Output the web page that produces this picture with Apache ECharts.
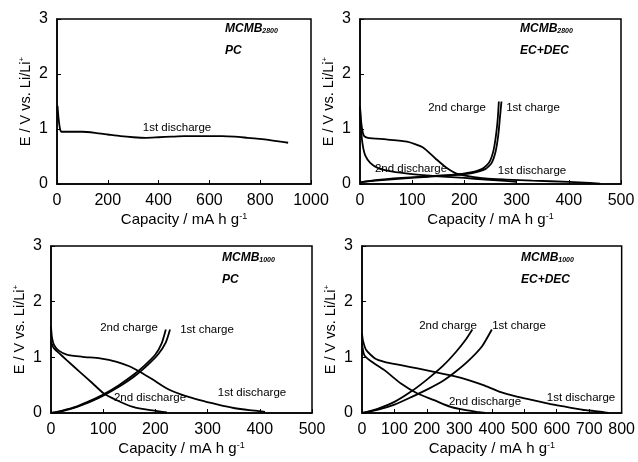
<!DOCTYPE html>
<html>
<head>
<meta charset="utf-8">
<script src="https://cdn.jsdelivr.net/npm/echarts@6/dist/echarts.min.js"></script>
<style>
html, body { margin: 0; padding: 0; background: #fff; }
#chart { width: 638px; height: 462px; }
</style>
</head>
<body>
<div id="chart"></div>
<script>
// capacity (mA h g-1), potential (V vs Li/Li+)

// MCMB2800 / PC
const pc2800Dis1 = [[2, 1.42], [6, 1.2], [12, 1.0], [18, 0.95], [50, 0.95], [100, 0.95], [150, 0.93], [200, 0.9], [250, 0.87], [300, 0.85], [350, 0.84], [400, 0.85], [450, 0.86], [500, 0.87], [550, 0.87], [600, 0.87], [650, 0.87], [700, 0.86], [750, 0.84], [800, 0.82], [850, 0.79], [880, 0.77], [910, 0.75]];

// MCMB2800 / EC+DEC
const ec2800Dis1 = [[0, 1.42], [2, 1.15], [5, 0.95], [8, 0.87], [15, 0.84], [50, 0.81], [90, 0.77], [120, 0.67], [145, 0.46], [165, 0.3], [185, 0.19], [210, 0.14], [240, 0.1], [280, 0.08], [330, 0.06], [400, 0.04], [440, 0.02], [460, 0.005]];
const ec2800Dis2 = [[0, 1.38], [2, 1.0], [5, 0.72], [10, 0.52], [20, 0.38], [35, 0.29], [60, 0.23], [100, 0.18], [150, 0.14], [200, 0.11], [240, 0.08], [270, 0.06], [300, 0.04]];
const ec2800Chg1 = [[0, 0.03], [30, 0.06], [80, 0.1], [130, 0.13], [180, 0.16], [215, 0.2], [240, 0.27], [252, 0.38], [260, 0.6], [265, 0.9], [268, 1.2], [271, 1.5]];
const ec2800Chg2 = [[0, 0.03], [30, 0.07], [80, 0.11], [130, 0.14], [180, 0.17], [212, 0.21], [235, 0.28], [248, 0.4], [256, 0.62], [261, 0.92], [264, 1.2], [266, 1.5]];

// MCMB1000 / PC
const pc1000Dis1 = [[0, 1.55], [2, 1.35], [6, 1.22], [15, 1.12], [30, 1.05], [60, 1.01], [94, 0.98], [126, 0.92], [150, 0.84], [170, 0.74], [195, 0.6], [222, 0.44], [250, 0.33], [285, 0.23], [320, 0.15], [350, 0.09], [380, 0.05], [410, 0.02]];
const pc1000Dis2 = [[0, 1.28], [5, 1.17], [15, 1.08], [30, 0.95], [55, 0.74], [80, 0.53], [100, 0.36], [126, 0.23], [157, 0.11], [190, 0.05], [222, 0.01]];
const pc1000Chg1 = [[0, 0], [20, 0.03], [50, 0.11], [80, 0.22], [100, 0.31], [130, 0.47], [160, 0.66], [185, 0.86], [205, 1.05], [220, 1.27], [228, 1.5]];
const pc1000Chg2 = [[0, 0], [20, 0.04], [50, 0.12], [80, 0.24], [100, 0.33], [130, 0.5], [160, 0.7], [180, 0.86], [200, 1.05], [212, 1.25], [220, 1.5]];

// MCMB1000 / EC+DEC
const ec1000Dis1 = [[0, 1.43], [3, 1.3], [13, 1.13], [40, 0.98], [69, 0.92], [120, 0.86], [171, 0.8], [222, 0.74], [293, 0.65], [340, 0.57], [374, 0.5], [425, 0.38], [480, 0.29], [527, 0.23], [580, 0.16], [629, 0.11], [690, 0.05], [741, 0.02], [760, 0.0]];
const ec1000Dis2 = [[0, 1.25], [7, 1.04], [30, 0.92], [69, 0.77], [120, 0.53], [171, 0.35], [222, 0.23], [273, 0.11], [320, 0.05], [354, 0.02], [380, 0.0]];
const ec1000Chg1 = [[0, 0], [50, 0.06], [100, 0.15], [150, 0.28], [200, 0.42], [250, 0.58], [290, 0.75], [330, 0.95], [370, 1.2], [400, 1.5]];
const ec1000Chg2 = [[0, 0], [50, 0.08], [100, 0.2], [150, 0.38], [200, 0.6], [250, 0.85], [290, 1.1], [320, 1.32], [340, 1.5]];

const xMaxes = [1000, 500, 500, 800];
const xSteps = [200, 100, 100, 100];

const FONT = 'Liberation Sans, Arial, Helvetica, sans-serif';

const grids = [
  { left: 57, top: 19, width: 254, height: 165 },
  { left: 360, top: 19, width: 261, height: 165 },
  { left: 51, top: 246, width: 261, height: 167 },
  { left: 362, top: 246, width: 262, height: 167 }
].map(g => Object.assign({ show: true, borderColor: '#000', borderWidth: 1.5, backgroundColor: 'transparent' }, g));

const xAxes = xMaxes.map((max, i) => ({
  gridIndex: i,
  type: 'value',
  min: 0,
  max: max,
  interval: xSteps[i],
  name: '{a|Capacity / mA h g}{s|-1}',
  nameLocation: 'middle',
  nameGap: 28,
  nameTextStyle: {
    rich: {
      a: { fontFamily: FONT, fontSize: 15, color: '#000' },
      s: { fontFamily: FONT, fontSize: 9, color: '#000', verticalAlign: 'top' }
    }
  },
  axisLine: { show: true, lineStyle: { color: '#000', width: 1.5 } },
  axisTick: { show: true, inside: true, length: 4, lineStyle: { color: '#000' } },
  axisLabel: { color: '#000', fontFamily: FONT, fontSize: 16, margin: 9, formatter: v => String(v) },
  splitLine: { show: false }
}));

const yAxes = xMaxes.map((_, i) => ({
  gridIndex: i,
  type: 'value',
  min: 0,
  max: 3,
  interval: 1,
  name: '{a|E / V vs. Li/Li}{s|+}',
  nameLocation: 'middle',
  nameGap: 24,
  nameRotate: 90,
  nameTextStyle: {
    rich: {
      a: { fontFamily: FONT, fontSize: 14.5, color: '#000' },
      s: { fontFamily: FONT, fontSize: 8, color: '#000', verticalAlign: 'top' }
    }
  },
  axisLine: { show: true, lineStyle: { color: '#000', width: 1.5 } },
  axisTick: { show: true, inside: true, length: 4, lineStyle: { color: '#000' } },
  axisLabel: { color: '#000', fontFamily: FONT, fontSize: 16, margin: 9 },
  splitLine: { show: false }
}));

const curves = [
  [0, pc2800Dis1],
  [1, ec2800Dis1], [1, ec2800Dis2], [1, ec2800Chg1], [1, ec2800Chg2],
  [2, pc1000Dis1], [2, pc1000Dis2], [2, pc1000Chg1], [2, pc1000Chg2],
  [3, ec1000Dis1], [3, ec1000Dis2], [3, ec1000Chg1], [3, ec1000Chg2]
];

const series = curves.map(([i, data]) => ({
  type: 'line',
  xAxisIndex: i,
  yAxisIndex: i,
  data: data,
  showSymbol: false,
  symbol: 'none',
  smooth: 0.2,
  lineStyle: { color: '#000', width: 1.8 },
  animation: false
}));

function note(text, x, y) {
  return {
    type: 'text', x: x, y: y,
    style: { text: text, fill: '#000', font: '11.5px ' + FONT, align: 'center', verticalAlign: 'middle' }
  };
}

function tag(main, sub, x, y) {
  return {
    type: 'text', x: x, y: y,
    style: {
      text: '{m|' + main + '}{s|' + sub + '}',
      align: 'left', verticalAlign: 'middle',
      rich: {
        m: { fontFamily: FONT, fontSize: 12, fontWeight: 'bold', fontStyle: 'italic', fill: '#000' },
        s: { fontFamily: FONT, fontSize: 7, fontWeight: 'bold', fontStyle: 'italic', fill: '#000', verticalAlign: 'bottom' }
      }
    }
  };
}

function solvent(text, x, y) {
  return {
    type: 'text', x: x, y: y,
    style: { text: text, fill: '#000', font: 'italic bold 12px ' + FONT, align: 'left', verticalAlign: 'middle' }
  };
}

const graphics = [
  tag('MCMB', '2800', 225, 29), solvent('PC', 225, 51),
  note('1st discharge', 177, 128),

  tag('MCMB', '2800', 520, 29), solvent('EC+DEC', 520, 51),
  note('2nd charge', 457, 108), note('1st charge', 533, 108),
  note('2nd discharge', 411, 169), note('1st discharge', 532, 171),

  tag('MCMB', '1000', 222, 258), solvent('PC', 222, 280),
  note('2nd charge', 129, 328), note('1st charge', 207, 330),
  note('2nd discharge', 150, 398), note('1st discharge', 252, 393),

  tag('MCMB', '1000', 521, 258), solvent('EC+DEC', 521, 280),
  note('2nd charge', 448, 326), note('1st charge', 519, 326),
  note('2nd discharge', 485, 402), note('1st discharge', 581, 398)
];

const chart = echarts.init(document.getElementById('chart'));
chart.setOption({
  animation: false,
  backgroundColor: '#fff',
  textStyle: { fontFamily: FONT },
  grid: grids,
  xAxis: xAxes,
  yAxis: yAxes,
  series: series,
  graphic: graphics
});
</script>
</body>
</html>
